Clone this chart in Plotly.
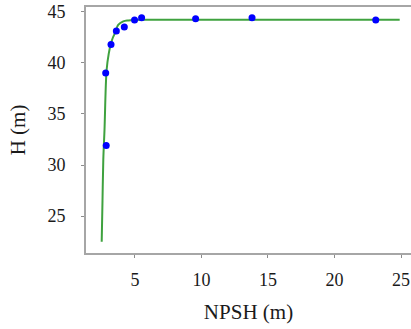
import plotly.graph_objects as go

# Measured points
npsh_pts = [2.84, 2.80, 3.20, 3.60, 4.20, 4.97, 5.50, 9.56, 13.8, 23.1]
h_pts = [31.9, 39.0, 41.8, 43.1, 43.5, 44.2, 44.4, 44.3, 44.4, 44.2]

# Fitted curve
npsh_fit = [2.50, 2.56, 2.62, 2.71, 2.87, 3.03, 3.20, 3.35, 3.50, 3.74, 4.12, 4.50, 4.87, 6.0, 10.0, 15.0, 20.0, 24.9]
h_fit = [22.5, 26.5, 30.5, 33.4, 39.3, 40.9, 41.9, 42.5, 42.9, 43.7, 44.05, 44.15, 44.2, 44.22, 44.22, 44.22, 44.22, 44.22]

x_ticks = [5, 10, 15, 20, 25]
y_ticks = [25, 30, 35, 40, 45]

SERIF = "Times New Roman, Liberation Serif, serif"

fig = go.Figure()
fig.add_trace(go.Scatter(x=npsh_fit, y=h_fit, mode="lines",
                         line=dict(color="#3fa23f", width=2, shape="spline"),
                         showlegend=False, hoverinfo="skip"))
fig.add_trace(go.Scatter(x=npsh_pts, y=h_pts, mode="markers",
                         marker=dict(color="#0000ff", size=7),
                         showlegend=False))

axis_common = dict(showgrid=False, zeroline=False, showline=True,
                   linecolor="#a6a6a6", linewidth=2,
                   ticks="outside", ticklen=3, tickwidth=1, tickcolor="#8c8c8c",
                   tickfont=dict(family=SERIF, size=18, color="#1a1a1a"))

fig.update_layout(
    width=411, height=329,
    margin=dict(l=86, r=0, t=7, b=76),
    paper_bgcolor="white", plot_bgcolor="white",
    xaxis=dict(range=[1.32, 25.75], tickvals=x_ticks, mirror=True,
               title=dict(text="NPSH (m)", standoff=16,
                          font=dict(family=SERIF, size=21, color="#1a1a1a")),
               ticklabelstandoff=6, automargin=False, **axis_common),
    yaxis=dict(range=[21.39, 45.46], tickvals=y_ticks,
               title=dict(text="H (m)", standoff=16,
                          font=dict(family=SERIF, size=21, color="#1a1a1a")),
               ticklabelstandoff=12, automargin=False, **axis_common),
)

fig.write_html("out.html", config={"displayModeBar": False},
               post_script="document.body.style.margin='0';document.body.style.overflow='hidden';")
